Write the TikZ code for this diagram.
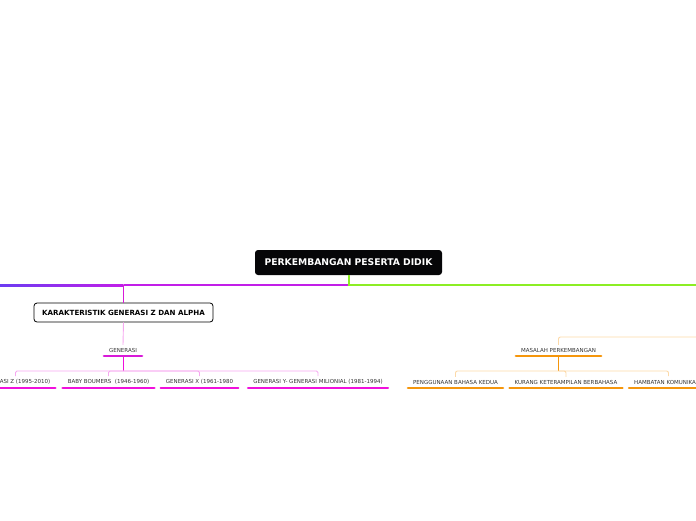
\documentclass[tikz,border=0pt]{standalone}
\usepackage{fontspec}
\setmainfont{DejaVu Sans}
\definecolor{mainbg}{HTML}{060608}
\definecolor{purp}{HTML}{C21EE8}
\definecolor{violet}{HTML}{6A3CF2}
\definecolor{lgreen}{HTML}{8CEE24}
\definecolor{mag}{HTML}{F010DC}
\definecolor{magd}{HTML}{D81AD8}
\definecolor{lpink}{HTML}{F6A8F0}
\definecolor{orng}{HTML}{F5960C}
\definecolor{lorng}{HTML}{FCD9A8}
\definecolor{txt}{HTML}{333333}
\tikzset{
  mainbox/.style={fill=mainbg, text=white, rounded corners=3pt, minimum width=187pt, minimum height=25pt, font=\fontsize{9.2}{11}\selectfont\bfseries, inner sep=0pt},
  subbox/.style={draw=black, line width=0.8pt, fill=white, rounded corners=3pt, minimum width=179pt, minimum height=19pt, font=\fontsize{7.1}{8}\selectfont\bfseries, inner sep=0pt},
  topic/.style={text=txt, font=\fontsize{5.5}{6.5}\selectfont, inner xsep=5pt, inner ysep=3.3pt, anchor=south},
  ulm/.style={line width=2.4pt, line cap=round, mag},
  ulo/.style={line width=2.4pt, line cap=round, orng},
  pinkc/.style={lpink, line width=0.9pt, rounded corners=1.5pt},
  orc/.style={lorng, line width=0.9pt, rounded corners=2pt}
}
\begin{document}
\begin{tikzpicture}[x=1pt,y=-1pt]
\useasboundingbox (0,0) rectangle (696,520);
\clip (0,0) rectangle (696,520);
% main
\node[mainbox] (main) at (348.5,262.5) {PERKEMBANGAN PESERTA DIDIK};
\coordinate (hub) at (348.5,285);
\coordinate (rend) at (700,285);
\coordinate (kj) at (123.5,285);
\shade[left color=violet, right color=purp] (-2,284) rectangle (123.5,286);
\draw[purp, line width=2pt] (hub) -- (kj);
\draw[lgreen, line width=2pt] (main.south) -- (hub) -- (rend);
% left branch
\node[subbox] (kar) at (123.5,312.5) {KARAKTERISTIK GENERASI Z DAN ALPHA};
\draw[magd, line width=0.9pt] (kj) -- (kar.north);
\node[topic] (gen) at (123,356) {GENERASI};
\draw[lpink, line width=0.9pt] (kar.south) -- (gen.north);
\draw[ulm, magd] (gen.south west) -- (gen.south east);
\node[topic] (c1) at (15.5,388) {GENERASI Z (1995-2010)};
\node[topic] (c2) at (108.5,388) {BABY BOUMERS~~(1946-1960)};
\node[topic] (c3) at (199.5,388) {GENERASI X (1961-1980};
\node[topic] (c4) at (318,388) {GENERASI Y- GENERASI MILIONIAL (1981-1994)};
\foreach \c in {c1,c2,c3,c4}{\draw[ulm] (\c.south west) -- (\c.south east);}
\draw[mag, line width=1pt] (gen.south) -- (123,371);
\foreach \c in {c1,c2,c3,c4}{\draw[pinkc] (123,371) -| (\c.north);}
% right branch
\coordinate (mr) at (700,337);
\node[topic] (mas) at (558.5,356) {MASALAH PERKEMBANGAN};
\draw[ulo] (mas.south west) -- (mas.south east);
\draw[orc] (mr) -| (mas.north);
\node[topic] (d1) at (455.5,388) {PENGGUNAAN BAHASA KEDUA};
\node[topic] (d2) at (566,388) {KURANG KETERAMPILAN BERBAHASA};
\node[topic, anchor=south west] (d3) at (629,388) {HAMBATAN KOMUNIKASI};
\foreach \c in {d1,d2,d3}{\draw[ulo] (\c.south west) -- (\c.south east);}
\draw[orng, line width=1pt] (mas.south) -- (558.5,371);
\draw[orc] (558.5,371) -| (d1.north);
\draw[orc] (558.5,371) -| (d2.north);
\draw[orc] (558.5,371) -| (668.5,376);
\end{tikzpicture}
\end{document}
